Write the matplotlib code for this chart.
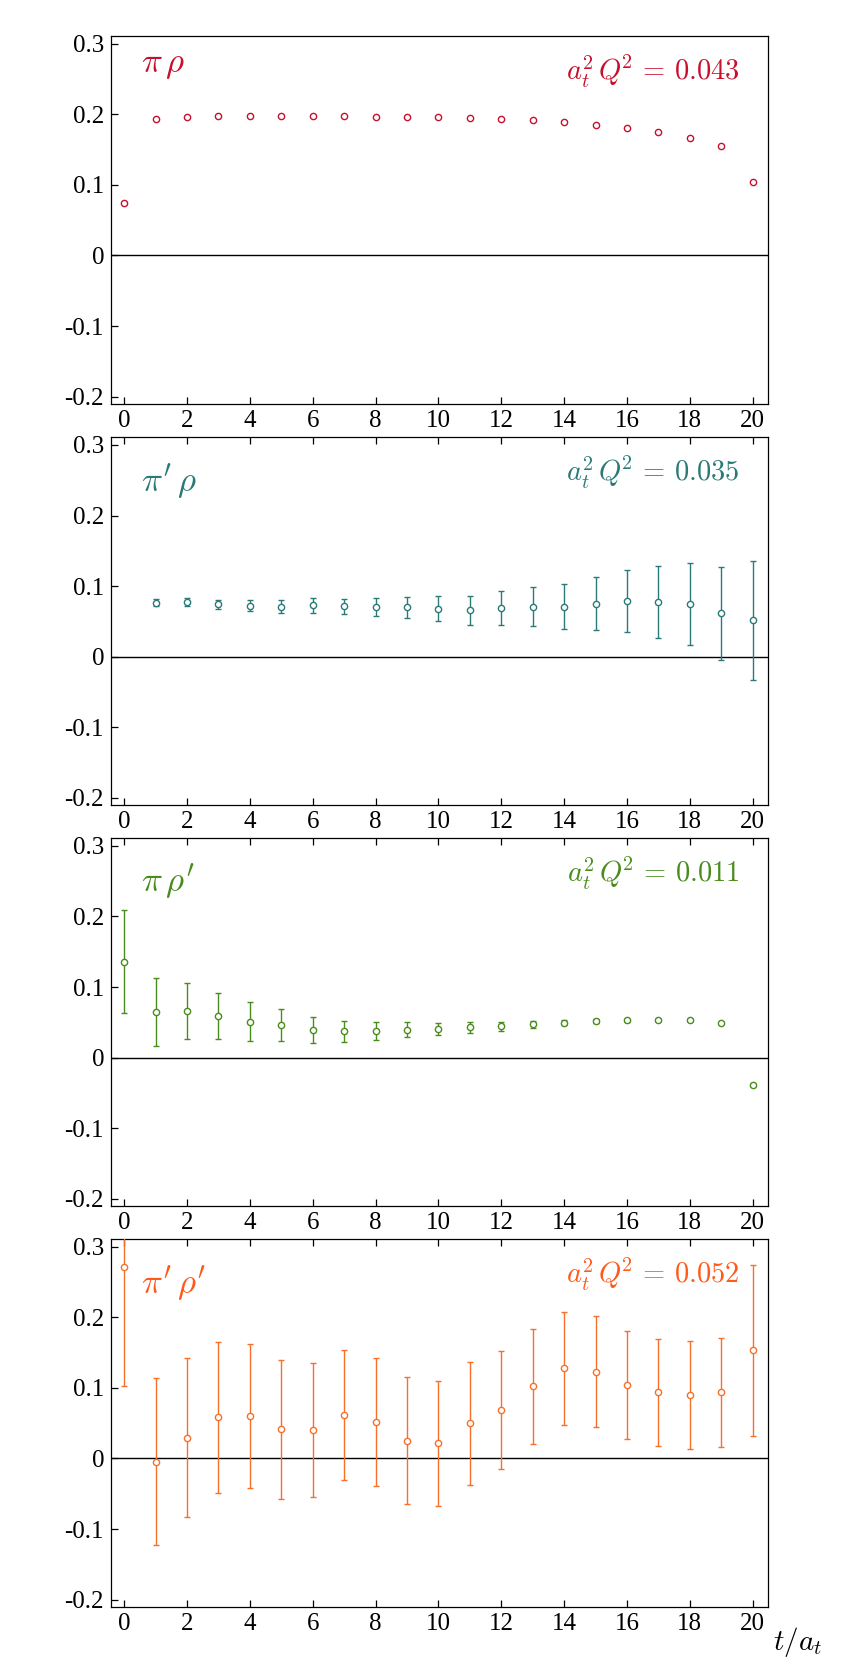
import numpy as np
import matplotlib
matplotlib.use('Agg')
import matplotlib.pyplot as plt

plt.rcParams['mathtext.fontset'] = 'cm'
plt.rcParams['font.family'] = ['Liberation Serif', 'DejaVu Serif']

# time slices
t = list(range(21))
t_from1 = list(range(1, 21))

# pi rho (errors too small to see)
pirho_y = [0.0744, 0.1929, 0.1962, 0.1976, 0.1981, 0.1980, 0.1980, 0.1976, 0.1967, 0.1967,
           0.1957, 0.1948, 0.1934, 0.1915, 0.1886, 0.1853, 0.1810, 0.1744, 0.1664, 0.1550, 0.1038]

# pi' rho (starts at t=1)
piprho_y = [0.0763, 0.0772, 0.0739, 0.0720, 0.0706, 0.0725, 0.0711, 0.0701, 0.0697, 0.0678,
            0.0654, 0.0687, 0.0706, 0.0706, 0.0749, 0.0791, 0.0777, 0.0749, 0.0616, 0.0512]
piprho_err = [0.005, 0.006, 0.007, 0.008, 0.009, 0.010, 0.011, 0.013, 0.015, 0.0175,
              0.0204, 0.024, 0.0277, 0.032, 0.0377, 0.0438, 0.051, 0.058, 0.066, 0.085]

# pi rho'
pirhop_y = [0.136, 0.0645, 0.0659, 0.0592, 0.0507, 0.0464, 0.0389, 0.0370, 0.0374, 0.0393,
            0.0403, 0.0427, 0.0445, 0.0469, 0.0493, 0.0517, 0.0526, 0.0531, 0.0531, 0.0493, -0.0389]
pirhop_err = [0.073, 0.048, 0.040, 0.033, 0.0275, 0.0228, 0.018, 0.015, 0.0128, 0.0107,
              0.0088, 0.0073, 0.0064, 0.0045, 0.0035, 0.0025, 0.002, 0.0015, 0.001, 0.001, 0.001]

# pi' rho'
piprhop_y = [0.272, -0.0043, 0.0293, 0.0582, 0.0596, 0.0411, 0.0407, 0.0615, 0.0520, 0.0250,
             0.0213, 0.0496, 0.0686, 0.1021, 0.1281, 0.1229, 0.1040, 0.0936, 0.0898, 0.0936, 0.1532]
piprhop_err = [0.169, 0.118, 0.1125, 0.1075, 0.102, 0.098, 0.095, 0.0925, 0.091, 0.090,
               0.0884, 0.0865, 0.084, 0.082, 0.080, 0.0785, 0.0766, 0.0763, 0.0766, 0.0775, 0.121]

panel_labels = [r'$\pi\,\rho$', r"$\pi'\,\rho$", r"$\pi\,\rho'$", r"$\pi'\,\rho'$"]
q2_values = ['0.043', '0.035', '0.011', '0.052']
colors = ['#c8102e', '#2b7a78', '#4a8c1c', '#f7702a']
text_colors = ['#c8102e', '#2b7a78', '#4a8c1c', '#ff5a1a']

xticks = list(range(0, 21, 2))
yticks = [-0.2, -0.1, 0, 0.1, 0.2, 0.3]
ytick_labels = ['-0.2', '-0.1', '0', '0.1', '0.2', '0.3']

series = [
    (t, pirho_y, None),
    (t_from1, piprho_y, piprho_err),
    (t, pirhop_y, pirhop_err),
    (t, piprhop_y, piprhop_err),
]

fig = plt.figure(figsize=(8.54, 16.72), dpi=100)
bottoms = [0.7584, 0.5185, 0.2787, 0.0389]
label_y = [0.902, 0.853, 0.855, 0.853]

for i in range(4):
    ax = fig.add_axes([0.130, bottoms[i], 0.769, 0.220])
    x, y, err = series[i]
    c = colors[i]
    ax.axhline(0, color='black', lw=1.0, zorder=1)
    if err is None:
        ax.plot(x, y, 'o', mfc='white', mec=c, mew=1.0, ms=4.5, ls='none', zorder=3)
    else:
        ax.errorbar(x, y, yerr=err, fmt='o', mfc='white', mec=c, mew=1.0, ms=4.5,
                    ecolor=c, elinewidth=1.0, capsize=2.5, capthick=1.0, zorder=3)

    ax.set_xlim(-0.42, 20.48)
    ax.set_ylim(-0.2105, 0.311)
    ax.set_xticks(xticks)
    ax.set_yticks(yticks)
    ax.set_yticklabels(ytick_labels)
    ax.tick_params(axis='both', direction='in', length=5, width=0.9, labelsize=18)
    ax.tick_params(axis='x', top=(i > 0), pad=4)
    ax.tick_params(axis='y', pad=5)
    for s in ax.spines.values():
        s.set_linewidth(0.9)

    ax.text(0.045, label_y[i], panel_labels[i], transform=ax.transAxes, fontsize=25,
            color=text_colors[i], ha='left', va='baseline')
    ax.text(0.957, 0.88, r'$a_t^2\,Q^{\!2}\,=\,' + q2_values[i] + '$', transform=ax.transAxes,
            fontsize=20.5, color=text_colors[i], ha='right', va='baseline')

fig.text(0.934, 0.018, r'$t/a_t$', fontsize=21, ha='center', va='center')

plt.savefig('out.png', dpi=100)
plt.close()
